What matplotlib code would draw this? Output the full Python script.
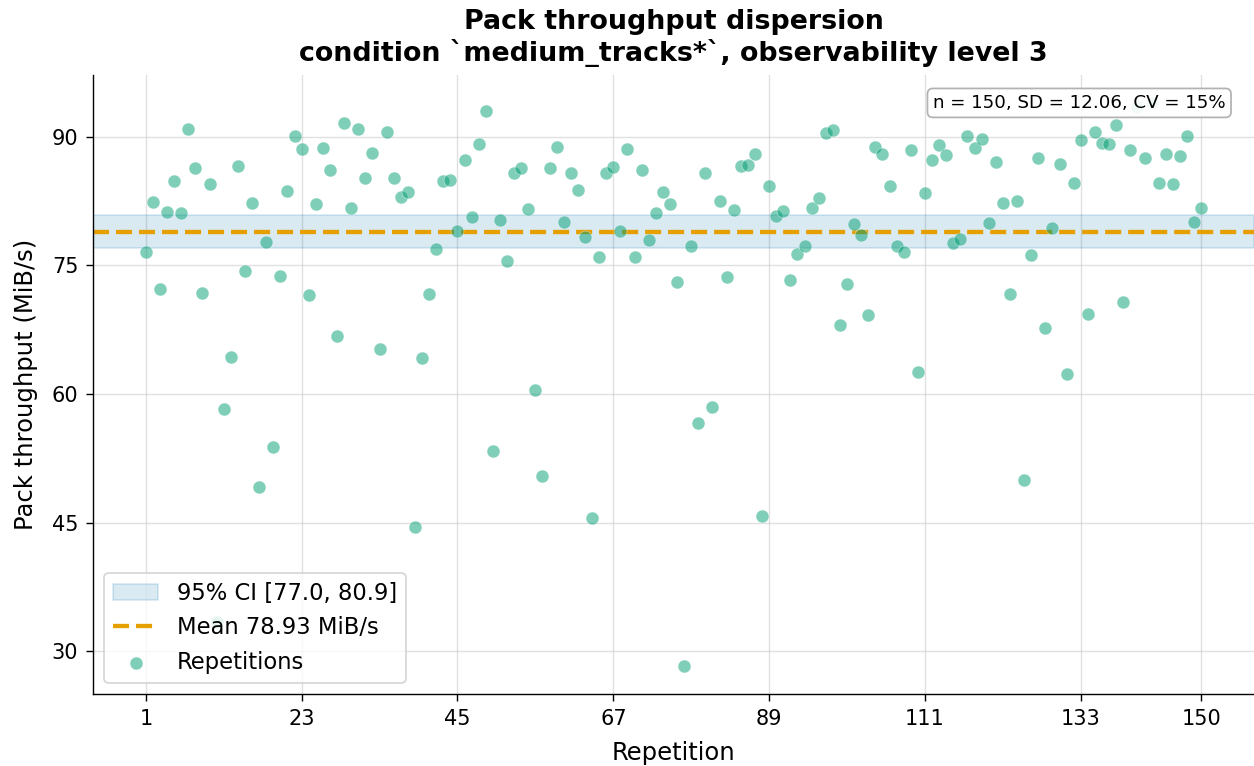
import numpy as np
import matplotlib.pyplot as plt

# Data
repetitions = np.arange(1, 151)
throughput = [
    76.6, 82.4, 72.2, 81.2, 84.8, 81.05, 90.9, 86.3, 71.8, 84.5,
    33.4, 58.2, 64.3, 86.6, 74.3, 82.3, 49.2, 77.7, 53.8, 73.7,
    83.65, 90.1, 88.6, 71.5, 82.1, 88.7, 86.1, 66.7, 91.6, 81.7,
    90.9, 85.2, 88.1, 65.3, 90.5, 85.2, 83.0, 83.6, 44.5, 64.2,
    71.6, 76.9, 84.85, 85.0, 79.0, 87.3, 80.6, 89.2, 93.0, 53.3,
    80.3, 75.5, 85.8, 86.3, 81.6, 60.5, 50.45, 86.3, 88.8, 80.0,
    85.8, 83.8, 78.3, 45.5, 76.0, 85.8, 86.5, 78.95, 88.6, 76.0,
    86.1, 77.9, 81.1, 83.6, 82.1, 73.1, 28.3, 77.25, 56.6, 85.8,
    58.5, 82.5, 73.6, 81.5, 86.6, 86.7, 88.0, 45.8, 84.3, 80.8,
    81.3, 73.3, 76.3, 77.2, 81.7, 82.9, 90.4, 90.8, 68.0, 72.8,
    79.8, 78.55, 69.15, 88.8, 88.0, 84.3, 77.3, 76.6, 88.5, 62.6,
    83.4, 87.3, 89.0, 87.9, 77.65, 78.1, 90.1, 88.7, 89.7, 79.9,
    87.1, 82.3, 71.6, 82.5, 50.0, 76.2, 87.5, 67.7, 79.4, 86.8,
    62.3, 84.6, 89.6, 69.3, 90.5, 89.3, 89.15, 91.4, 70.7, 88.4,
    93.5, 87.5, 93.9, 84.6, 88.0, 84.5, 87.8, 90.1, 80.1, 81.7,
]
mean_value = 78.93
ci_low, ci_high = 77.0, 80.9
sd_value = 12.06
cv_pct = 15
x_ticks = [1, 23, 45, 67, 89, 111, 133, 150]
y_ticks = [30, 45, 60, 75, 90]

DPI = 125
fig = plt.figure(figsize=(1254 / DPI, 766 / DPI), dpi=DPI)
ax = fig.add_axes([0.0742, 0.094, 0.9258, 0.808])

ax.axhspan(ci_low, ci_high, color='#0072B2', alpha=0.15,
           label=f'95% CI [{ci_low:.1f}, {ci_high:.1f}]')
ax.axhline(mean_value, color='#E69F00', linestyle='--', linewidth=2.5,
           label=f'Mean {mean_value:.2f} MiB/s')
ax.scatter(repetitions, throughput, s=55, color='#009E73', alpha=0.5,
           edgecolor='white', linewidth=0.4, label='Repetitions', zorder=3)

ax.set_xticks(x_ticks)
ax.set_yticks(y_ticks)
ax.tick_params(labelsize=12, length=4, pad=4.5)
ax.grid(True, color='#cccccc', alpha=0.6, linewidth=0.8)
ax.set_axisbelow(True)
ax.spines['top'].set_visible(False)
ax.spines['right'].set_visible(False)

ax.set_xlabel('Repetition', fontsize=14, labelpad=7)
ax.set_ylabel('Pack throughput (MiB/s)', fontsize=14, labelpad=8)
ax.set_title('Pack throughput dispersion\ncondition `medium_tracks*`, observability level 3',
             fontsize=15.5, fontweight='bold', pad=8)

ax.legend(loc='lower left', fontsize=13)
ax.text(0.9755, 0.955, f'n = {len(throughput)}, SD = {sd_value:.2f}, CV = {cv_pct}%',
        transform=ax.transAxes, ha='right', va='center', fontsize=10.5,
        bbox=dict(boxstyle='round,pad=0.3', facecolor='white', edgecolor='#aaaaaa', alpha=0.9))

fig.savefig('out.png', dpi=DPI)
